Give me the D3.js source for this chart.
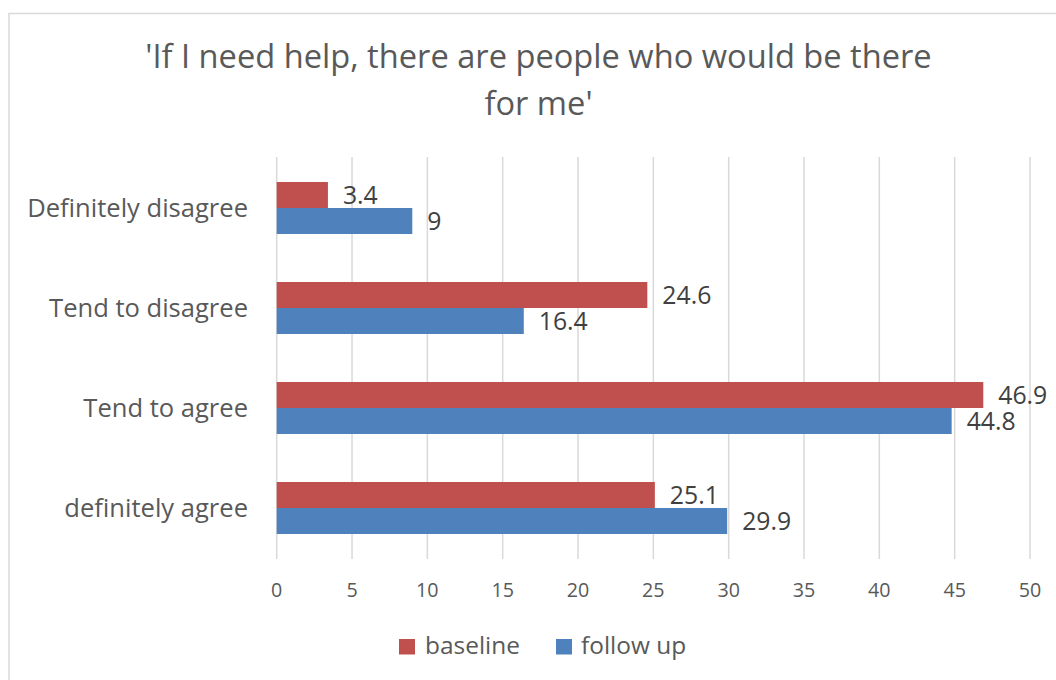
<!DOCTYPE html>
<html>
<head>
<meta charset="utf-8">
<script src="https://cdn.jsdelivr.net/npm/d3@7"></script>
<style>
  html, body { margin: 0; padding: 0; background: #fff; }
  svg { display: block; }
  text { font-family: "Open Sans", "Noto Sans", sans-serif; }
</style>
</head>
<body>
<svg id="chart" width="1056" height="680"></svg>
<script>
// Survey responses, percentages
const categories = ["Definitely disagree", "Tend to disagree", "Tend to agree", "definitely agree"];
const seriesNames = ["baseline", "follow up"];
const baseline = [3.4, 24.6, 46.9, 25.1];
const followUp = [9, 16.4, 44.8, 29.9];
const xTicks = [0, 5, 10, 15, 20, 25, 30, 35, 40, 45, 50];
const titleLines = ["'If I need help, there are people who would be there", "for me'"];

const colors = { "baseline": "#C0504D", "follow up": "#4F81BD" };
const seriesValues = { "baseline": baseline, "follow up": followUp };

const svg = d3.select("#chart");

// pick a font size so that a sample string spans the wanted width
function fitSize(sample, width) {
  const t = svg.append("text").attr("font-size", 100).text(sample);
  const w = t.node().getComputedTextLength();
  t.remove();
  return 100 * width / w;
}
const titleSize = fitSize(titleLines[0], 787);
const catSize = fitSize("Definitely disagree", 221);
const tickSize = fitSize("25", 22.5);
const valueSize = fitSize("46.9", 49);
const legendSize = fitSize("baseline", 95);

// chart frame
svg.append("rect")
  .attr("x", 9).attr("y", 13.5)
  .attr("width", 1060).attr("height", 700)
  .attr("fill", "none").attr("stroke", "#D9D9D9").attr("stroke-width", 1.5);

const x = d3.scaleLinear().domain([0, 50]).range([276.7, 1030]);
const y = d3.scaleBand().domain(categories).range([158, 558])
  .paddingInner(0.48).paddingOuter(0.24);
const ySub = d3.scaleBand().domain(seriesNames).range([0, y.bandwidth()]);

// vertical gridlines
svg.append("g").selectAll("line").data(xTicks).join("line")
  .attr("x1", d => x(d)).attr("x2", d => x(d))
  .attr("y1", 157).attr("y2", 559)
  .attr("stroke", "#D9D9D9").attr("stroke-width", 1.5);

// x tick labels
svg.append("g").selectAll("text").data(xTicks).join("text")
  .attr("x", d => x(d)).attr("y", 597)
  .attr("text-anchor", "middle")
  .attr("font-size", tickSize).attr("fill", "#595959")
  .text(d => d);

// category labels
svg.append("g").selectAll("text").data(categories).join("text")
  .attr("x", 248)
  .attr("y", d => y(d) + y.bandwidth() / 2)
  .attr("dy", "0.35em")
  .attr("text-anchor", "end")
  .attr("font-size", catSize).attr("fill", "#595959")
  .text(d => d);

// bars and value labels
const rows = [];
categories.forEach((c, i) => {
  seriesNames.forEach(s => rows.push({ cat: c, series: s, value: seriesValues[s][i] }));
});

svg.append("g").selectAll("rect").data(rows).join("rect")
  .attr("x", x(0))
  .attr("y", d => y(d.cat) + ySub(d.series))
  .attr("width", d => x(d.value) - x(0))
  .attr("height", ySub.bandwidth())
  .attr("fill", d => colors[d.series]);

svg.append("g").selectAll("text").data(rows).join("text")
  .attr("x", d => x(d.value) + 15)
  .attr("y", d => y(d.cat) + ySub(d.series) + ySub.bandwidth() / 2)
  .attr("dy", "0.37em")
  .attr("font-size", valueSize).attr("fill", "#404040")
  .text(d => d.value);

// title
svg.append("g").selectAll("text").data(titleLines).join("text")
  .attr("x", 538.5)
  .attr("y", (d, i) => 68 + i * 47)
  .attr("text-anchor", "middle")
  .attr("font-size", titleSize).attr("fill", "#595959")
  .text(d => d);

// legend
const legendPos = [{ name: "baseline", sx: 399, tx: 425 }, { name: "follow up", sx: 556, tx: 581 }];
const lg = svg.append("g");
lg.selectAll("rect").data(legendPos).join("rect")
  .attr("x", d => d.sx).attr("y", 639)
  .attr("width", 16).attr("height", 15.5)
  .attr("fill", d => colors[d.name]);
lg.selectAll("text").data(legendPos).join("text")
  .attr("x", d => d.tx).attr("y", 654)
  .attr("font-size", legendSize).attr("fill", "#595959")
  .text(d => d.name);
</script>
</body>
</html>
